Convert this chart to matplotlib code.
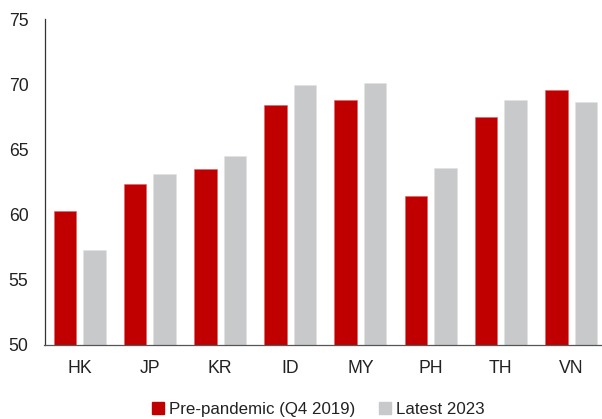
import numpy as np
import matplotlib
matplotlib.use('Agg')
import matplotlib.pyplot as plt
from matplotlib.patches import Patch

plt.rcParams['font.family'] = ['Liberation Sans', 'DejaVu Sans']

# data
countries = ['HK', 'JP', 'KR', 'ID', 'MY', 'PH', 'TH', 'VN']
pre_pandemic = [60.25, 62.3, 63.5, 68.4, 68.8, 61.4, 67.45, 69.55]
latest_2023 = [57.3, 63.1, 64.5, 69.9, 70.1, 63.6, 68.8, 68.6]

red = '#C00000'
grey = '#C8C9CB'

fig = plt.figure(figsize=(6.02, 4.19), dpi=100)
ax = fig.add_axes([44.5 / 602, 1 - 344.7 / 419, 1 - 44.5 / 602, (344.7 - 19) / 419])

x = np.arange(len(countries))
w = 0.32
ax.bar(x - 0.21, pre_pandemic, w, color=red, edgecolor='#E06060', linewidth=0.4)
ax.bar(x + 0.21, latest_2023, w, color=grey, edgecolor='#E2E2E3', linewidth=0.4)

ax.set_ylim(50, 75)
ax.set_xlim(-0.5, 7.44)
ax.set_yticks([50, 55, 60, 65, 70, 75])
ax.set_xticks(x)
ax.set_xticklabels(countries)
ax.tick_params(axis='both', length=0, labelsize=12.7, colors='#222222')
ax.tick_params(axis='y', pad=11.5)
ax.tick_params(axis='x', pad=11)

for s in ['top', 'right']:
    ax.spines[s].set_visible(False)
ax.spines['left'].set_color('#333333')
ax.spines['bottom'].set_color('#555555')
ax.spines['left'].set_linewidth(0.9)
ax.spines['bottom'].set_linewidth(0.9)

handles = [Patch(color=red, label='Pre-pandemic (Q4 2019)'),
           Patch(color=grey, label='Latest 2023')]
fig.legend(handles=handles, loc='center', bbox_to_anchor=(0.529, 1 - 409 / 419),
           ncol=2, frameon=False, fontsize=12.2, handlelength=0.7, handleheight=0.7,
           handletextpad=0.3, columnspacing=1.4, labelcolor='#222222')

fig.savefig('out.png', dpi=100)
